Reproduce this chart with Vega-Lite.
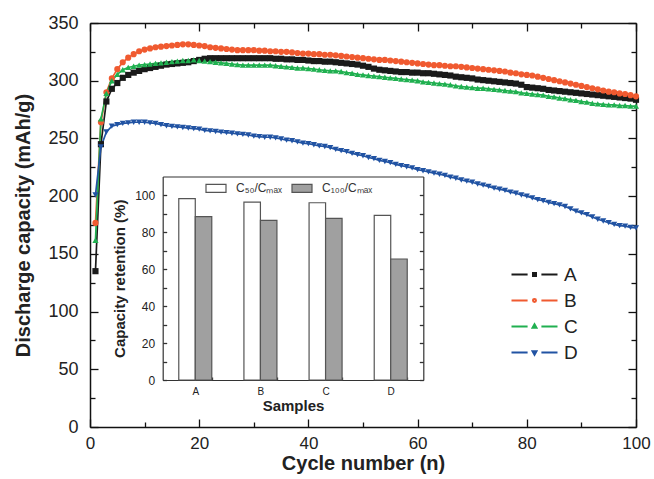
{
  "$schema": "https://vega.github.io/schema/vega-lite/v6.json",
  "autosize": "none",
  "width": 546,
  "height": 404,
  "padding": {"left": 90, "top": 23, "right": 18, "bottom": 52},
  "background": "white",
  "config": {
    "font": "Liberation Sans",
    "view": {"stroke": null},
    "axis": {"grid": false, "domainColor": "#111", "tickColor": "#111", "domainWidth": 1.5, "tickWidth": 1.3, "labelColor": "#222", "titleColor": "#222", "labelFont": "Liberation Sans", "titleFont": "Liberation Sans"}
  },
  "datasets": {
    "cap": [
      {"n":1,"A":135,"B":176.8,"C":161.8,"D":201},
      {"n":2,"A":245,"B":264,"C":267,"D":242.6},
      {"n":3,"A":282,"B":290,"C":289,"D":255.6},
      {"n":4,"A":293,"B":302,"C":300,"D":260.6},
      {"n":5,"A":298,"B":310,"C":305.5,"D":262},
      {"n":6,"A":302.5,"B":316,"C":309.5,"D":263},
      {"n":7,"A":305,"B":320,"C":311.5,"D":263.5},
      {"n":8,"A":307,"B":323,"C":312.5,"D":264},
      {"n":9,"A":308.5,"B":325.5,"C":313.5,"D":264},
      {"n":10,"A":310,"B":327,"C":314,"D":264},
      {"n":11,"A":311,"B":328,"C":314.5,"D":263.5},
      {"n":12,"A":312,"B":329,"C":315,"D":263},
      {"n":13,"A":313,"B":329.5,"C":315.5,"D":262},
      {"n":14,"A":314,"B":330,"C":316,"D":261},
      {"n":15,"A":314.5,"B":330.5,"C":316.5,"D":260.5},
      {"n":16,"A":315,"B":331,"C":317,"D":260},
      {"n":17,"A":315.5,"B":331.5,"C":317.5,"D":259.5},
      {"n":18,"A":316,"B":331.5,"C":317.5,"D":259},
      {"n":19,"A":317,"B":331,"C":318,"D":258.5},
      {"n":20,"A":318,"B":330.5,"C":317.5,"D":258},
      {"n":21,"A":319,"B":330,"C":317,"D":257},
      {"n":22,"A":319.5,"B":329,"C":316.5,"D":256.5},
      {"n":23,"A":319.5,"B":328.5,"C":316,"D":256},
      {"n":24,"A":319.5,"B":328,"C":315.5,"D":255.5},
      {"n":25,"A":319.5,"B":327.5,"C":315,"D":255},
      {"n":26,"A":319.5,"B":327,"C":314.5,"D":254.5},
      {"n":27,"A":319.5,"B":326.5,"C":314,"D":254},
      {"n":28,"A":319.5,"B":326.5,"C":313.5,"D":253.5},
      {"n":29,"A":319.5,"B":326.5,"C":313.5,"D":253},
      {"n":30,"A":319.5,"B":326.5,"C":313.5,"D":252},
      {"n":31,"A":319.5,"B":326,"C":313.5,"D":251.5},
      {"n":32,"A":319.5,"B":326,"C":313.5,"D":251},
      {"n":33,"A":319.5,"B":325.5,"C":313.5,"D":251},
      {"n":34,"A":319,"B":325.5,"C":313,"D":250.5},
      {"n":35,"A":319,"B":325,"C":312.5,"D":249.5},
      {"n":36,"A":318.5,"B":325,"C":312,"D":248.5},
      {"n":37,"A":318.5,"B":324.5,"C":311.5,"D":248},
      {"n":38,"A":318,"B":324,"C":311,"D":247},
      {"n":39,"A":318,"B":323.5,"C":311,"D":246},
      {"n":40,"A":317.5,"B":323.5,"C":310.5,"D":245.5},
      {"n":41,"A":317,"B":323,"C":310,"D":244.5},
      {"n":42,"A":317,"B":323,"C":309.5,"D":243.5},
      {"n":43,"A":316.5,"B":322.5,"C":309,"D":243},
      {"n":44,"A":316.5,"B":322.5,"C":308.5,"D":242},
      {"n":45,"A":316,"B":322,"C":308.5,"D":240.5},
      {"n":46,"A":315.5,"B":321.5,"C":308,"D":239.5},
      {"n":47,"A":315,"B":321,"C":307,"D":238.5},
      {"n":48,"A":314.5,"B":320.5,"C":306.5,"D":237},
      {"n":49,"A":314,"B":320,"C":305.5,"D":236},
      {"n":50,"A":313,"B":319.5,"C":305,"D":235},
      {"n":51,"A":312,"B":319,"C":304.5,"D":233.5},
      {"n":52,"A":310.5,"B":318.5,"C":304,"D":232.5},
      {"n":53,"A":309.5,"B":318,"C":303.5,"D":231},
      {"n":54,"A":309,"B":318,"C":303,"D":230},
      {"n":55,"A":308.5,"B":317.5,"C":302.5,"D":229},
      {"n":56,"A":308,"B":317,"C":302,"D":227.5},
      {"n":57,"A":307.5,"B":316.5,"C":301.5,"D":226.5},
      {"n":58,"A":307.5,"B":316,"C":301,"D":225.5},
      {"n":59,"A":307,"B":315.5,"C":300.5,"D":224.5},
      {"n":60,"A":307,"B":315,"C":300,"D":223},
      {"n":61,"A":306.5,"B":314.5,"C":299,"D":222},
      {"n":62,"A":306.5,"B":314,"C":298.5,"D":221},
      {"n":63,"A":306,"B":313.5,"C":298,"D":220},
      {"n":64,"A":305.5,"B":313.5,"C":297.5,"D":219},
      {"n":65,"A":305,"B":313,"C":297,"D":218},
      {"n":66,"A":304.5,"B":312.5,"C":296.5,"D":216.5},
      {"n":67,"A":303.5,"B":312.5,"C":295.5,"D":215.5},
      {"n":68,"A":303,"B":312,"C":295,"D":214},
      {"n":69,"A":302.5,"B":311.5,"C":294.5,"D":213},
      {"n":70,"A":302,"B":311,"C":294,"D":212},
      {"n":71,"A":301,"B":310.5,"C":293.5,"D":210.5},
      {"n":72,"A":300.5,"B":310,"C":293.5,"D":209.5},
      {"n":73,"A":300,"B":309.5,"C":293,"D":208.5},
      {"n":74,"A":299.5,"B":309,"C":292.5,"D":207},
      {"n":75,"A":299,"B":308.5,"C":292,"D":206},
      {"n":76,"A":298.5,"B":308,"C":291.5,"D":205},
      {"n":77,"A":298,"B":307,"C":291,"D":203.5},
      {"n":78,"A":297.5,"B":306.5,"C":290.5,"D":202.5},
      {"n":79,"A":296.5,"B":305.5,"C":289.5,"D":201},
      {"n":80,"A":294.5,"B":305,"C":289,"D":200},
      {"n":81,"A":294,"B":304.5,"C":288.5,"D":198.5},
      {"n":82,"A":293.5,"B":303.5,"C":288,"D":197},
      {"n":83,"A":293,"B":302.5,"C":287.5,"D":196},
      {"n":84,"A":292,"B":301.5,"C":286.5,"D":194.5},
      {"n":85,"A":291.5,"B":300.5,"C":286,"D":193.5},
      {"n":86,"A":291,"B":299.5,"C":285,"D":192.5},
      {"n":87,"A":290.5,"B":298.5,"C":284.5,"D":191},
      {"n":88,"A":290,"B":297.5,"C":283.5,"D":189},
      {"n":89,"A":289.5,"B":296.5,"C":283,"D":187},
      {"n":90,"A":289,"B":295.5,"C":282,"D":185.5},
      {"n":91,"A":288.5,"B":294.5,"C":281.5,"D":184},
      {"n":92,"A":288,"B":293.5,"C":280.5,"D":182},
      {"n":93,"A":287.5,"B":292.5,"C":280,"D":180},
      {"n":94,"A":287,"B":291.5,"C":279.5,"D":178.5},
      {"n":95,"A":286.5,"B":290.5,"C":279,"D":177},
      {"n":96,"A":286,"B":290,"C":279,"D":175.5},
      {"n":97,"A":285.5,"B":289,"C":278.5,"D":174.5},
      {"n":98,"A":285,"B":288.5,"C":278.5,"D":174},
      {"n":99,"A":284.5,"B":287.5,"C":278,"D":173},
      {"n":100,"A":283.5,"B":286.5,"C":278,"D":172.5}
    ],
    "ret": [
      {"sample":"A","type":"C₅₀/Cₘₐₓ","value":98.0},
      {"sample":"A","type":"C₁₀₀/Cₘₐₓ","value":88.3},
      {"sample":"B","type":"C₅₀/Cₘₐₓ","value":96.2},
      {"sample":"B","type":"C₁₀₀/Cₘₐₓ","value":86.3},
      {"sample":"C","type":"C₅₀/Cₘₐₓ","value":95.8},
      {"sample":"C","type":"C₁₀₀/Cₘₐₓ","value":87.4},
      {"sample":"D","type":"C₅₀/Cₘₐₓ","value":89.0},
      {"sample":"D","type":"C₁₀₀/Cₘₐₓ","value":65.4}
    ]
  },
  "layer": [
    {
      "data": {"name": "cap"},
      "transform": [{"fold": ["A","B","C","D"], "as": ["series","value"]}],
      "mark": {"type": "line", "strokeWidth": 1.7},
      "encoding": {
        "x": {"field": "n", "type": "quantitative", "scale": {"domain": [0,100], "nice": false},
              "axis": {"orient": "bottom", "values": [0,20,40,60,80,100], "tickSize": -8, "labelFontSize": 17, "labelPadding": 16, "labelFlush": false, "title": "Cycle number (n)", "titleFontSize": 20, "titleFontWeight": "bold", "titlePadding": 2}},
        "y": {"field": "value", "type": "quantitative", "scale": {"domain": [0,350], "nice": false},
              "axis": {"orient": "left", "values": [0,50,100,150,200,250,300,350], "tickSize": -8, "labelFontSize": 18, "labelPadding": 20, "labelFlush": false, "title": "Discharge capacity (mAh/g)", "titleFontSize": 20, "titleFontWeight": "bold", "titlePadding": 14}},
        "color": {"field": "series", "type": "nominal", "scale": {"domain": ["A","B","C","D"], "range": ["#1a1a1a","#f05a30","#20b050","#2153a3"]}, "legend": null}
      }
    },
    {
      "data": {"name": "cap"},
      "transform": [{"fold": ["A","B","C","D"], "as": ["series","value"]}],
      "mark": {"type": "point", "filled": true, "opacity": 1},
      "encoding": {
        "x": {"field": "n", "type": "quantitative", "scale": {"domain": [0,100], "nice": false},
              "axis": {"orient": "top", "values": [0,20,40,60,80,100], "tickSize": -8, "labels": false, "title": null}},
        "y": {"field": "value", "type": "quantitative", "scale": {"domain": [0,350], "nice": false},
              "axis": {"orient": "right", "values": [0,50,100,150,200,250,300,350], "tickSize": -8, "labels": false, "title": null}},
        "color": {"field": "series", "type": "nominal", "scale": {"domain": ["A","B","C","D"], "range": ["#1a1a1a","#f05a30","#20b050","#2153a3"]}, "legend": null},
        "shape": {"field": "series", "type": "nominal", "scale": {"domain": ["A","B","C","D"], "range": ["square","circle","triangle-up","triangle-down"]}, "legend": null},
        "size": {"field": "series", "type": "nominal", "scale": {"domain": ["A","B","C","D"], "range": [38,38,48,48]}, "legend": null}
      }
    },
    {
      "data": {"name": "cap"},
      "transform": [{"fold": ["A","B","C","D"], "as": ["series","value"]}],
      "mark": {"type": "point", "filled": false, "opacity": 0, "strokeWidth": 2},
      "encoding": {
        "x": {"field": "n", "type": "quantitative", "scale": {"domain": [0,100], "nice": false},
              "axis": {"orient": "bottom", "values": [10,30,50,70,90], "tickSize": -5, "labels": false, "domain": false, "title": null}},
        "y": {"field": "value", "type": "quantitative", "scale": {"domain": [0,350], "nice": false},
              "axis": {"orient": "left", "values": [25,75,125,175,225,275,325], "tickSize": -5, "labels": false, "domain": false, "title": null}},
        "stroke": {"field": "series", "type": "nominal", "scale": {"domain": ["A","B","C","D"], "range": ["#1a1a1a","#f05a30","#20b050","#2153a3"]},
                   "legend": {"orient": "none", "legendX": 432, "legendY": 239, "title": null, "padding": 0, "symbolSize": 529, "symbolStrokeWidth": 2, "symbolOpacity": 1, "labelFontSize": 19, "labelFont": "Liberation Sans", "labelColor": "#222", "labelOffset": 17, "rowPadding": 3}},
        "shape": {"field": "series", "type": "nominal", "scale": {"domain": ["A","B","C","D"], "range": [
                     "M-2,0H-0.6M0.6,0H2M-0.13,-0.13H0.13V0.13H-0.13ZM-0.04,-0.04H0.04V0.04H-0.04Z",
                     "M-2,0H-0.6M0.6,0H2M0.13,0A0.13,0.13,0,1,1,-0.13,0A0.13,0.13,0,1,1,0.13,0ZM0.04,0A0.04,0.04,0,1,1,-0.04,0A0.04,0.04,0,1,1,0.04,0Z",
                     "M-2,0H-0.6M0.6,0H2M0,-0.19L0.17,0.11L-0.17,0.11ZM0,-0.06L0.05,0.03L-0.05,0.03Z",
                     "M-2,0H-0.6M0.6,0H2M0,0.19L0.17,-0.11L-0.17,-0.11ZM0,0.06L0.05,-0.03L-0.05,-0.03Z"]},
                   "legend": {"orient": "none", "legendX": 432, "legendY": 239, "title": null, "padding": 0, "symbolSize": 529, "symbolStrokeWidth": 2, "symbolOpacity": 1, "labelFontSize": 19, "labelFont": "Liberation Sans", "labelColor": "#222", "labelOffset": 17, "rowPadding": 3}}
      }
    },
    {
      "data": {"name": "cap"},
      "transform": [{"fold": ["A"], "as": ["series","value"]}],
      "mark": {"type": "point", "opacity": 0},
      "encoding": {
        "x": {"field": "n", "type": "quantitative", "scale": {"domain": [0,100], "nice": false},
              "axis": {"orient": "top", "values": [10,30,50,70,90], "tickSize": -5, "labels": false, "domain": false, "title": null}},
        "y": {"field": "value", "type": "quantitative", "scale": {"domain": [0,350], "nice": false},
              "axis": {"orient": "right", "values": [25,75,125,175,225,275,325], "tickSize": -5, "labels": false, "domain": false, "title": null}}
      }
    },
    {
      "data": {"name": "ret"},
      "mark": {"type": "bar", "stroke": "#555", "strokeWidth": 1.2},
      "encoding": {
        "x": {"field": "sample", "type": "nominal", "sort": ["A","B","C","D"],
              "scale": {"range": [72.7, 333.3], "paddingInner": 0.4935, "paddingOuter": 0.2467},
              "axis": {"orient": "bottom", "offset": -47, "tickBand": "extent", "tickSize": -3, "domainWidth": 1.2, "domainColor": "#333", "tickColor": "#333", "labelAngle": 0, "labelFontSize": 10, "labelPadding": 9, "title": "Samples", "titleFontSize": 15, "titleFontWeight": "bold", "titlePadding": 2}},
        "y": {"field": "value", "type": "quantitative", "scale": {"domain": [0,110], "range": [357, 153.5], "nice": false},
              "axis": {"orient": "left", "offset": -72.7, "values": [0,10,20,30,40,50,60,70,80,90,100], "labelExpr": "datum.value % 20 == 0 ? datum.label : ''", "tickSize": -4, "domainWidth": 1.2, "domainColor": "#333", "tickColor": "#333", "labelFontSize": 12, "labelPadding": 12, "title": "Capacity retention (%)", "titleFontSize": 15, "titleFontWeight": "bold", "titlePadding": 7}},
        "xOffset": {"field": "type", "type": "nominal", "sort": ["C₅₀/Cₘₐₓ","C₁₀₀/Cₘₐₓ"]},
        "fill": {"field": "type", "type": "nominal", "scale": {"domain": ["C₅₀/Cₘₐₓ","C₁₀₀/Cₘₐₓ"], "range": ["#ffffff","#a0a0a0"]},
                 "legend": {"orient": "none", "legendX": 115, "legendY": 154, "direction": "horizontal", "title": null, "padding": 0, "symbolType": "M-1,-0.4H1V0.4H-1Z", "symbolSize": 400, "symbolStrokeColor": "#555", "symbolStrokeWidth": 1.2, "labelFontSize": 12, "labelColor": "#333", "labelOffset": 9, "columnPadding": 7}}
      }
    },
    {
      "data": {"name": "ret"},
      "mark": {"type": "bar", "opacity": 0},
      "encoding": {
        "x": {"field": "sample", "type": "nominal", "sort": ["A","B","C","D"],
              "scale": {"range": [72.7, 333.3], "paddingInner": 0.4935, "paddingOuter": 0.2467},
              "axis": {"orient": "top", "offset": -153.5, "ticks": false, "labels": false, "domainWidth": 1.2, "domainColor": "#333", "title": null}},
        "y": {"field": "value", "type": "quantitative", "scale": {"domain": [0,110], "range": [357, 153.5], "nice": false},
              "axis": {"orient": "right", "offset": -212.7, "values": [0,10,20,30,40,50,60,70,80,90,100], "tickSize": -4, "labels": false, "domainWidth": 1.2, "domainColor": "#333", "tickColor": "#333", "title": null}}
      }
    }
  ],
  "resolve": {
    "scale": {"x": "independent", "y": "independent", "color": "independent", "shape": "independent", "size": "independent", "stroke": "independent", "fill": "independent"},
    "axis": {"x": "independent", "y": "independent"},
    "legend": {"color": "independent", "shape": "independent", "size": "independent", "stroke": "independent", "fill": "independent"}
  }
}
